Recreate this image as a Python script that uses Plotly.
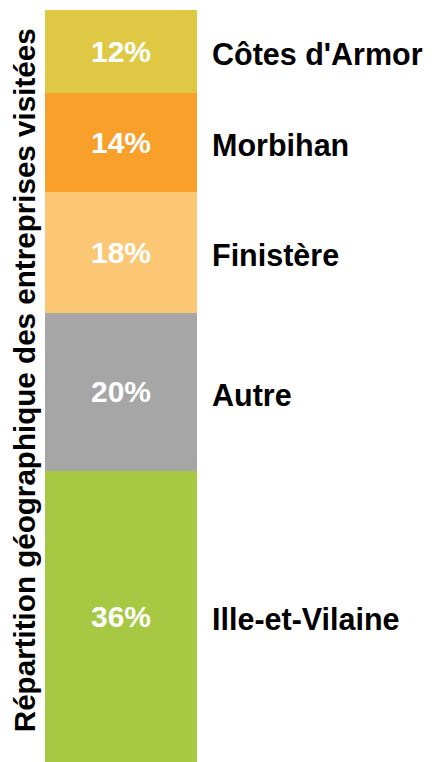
import plotly.graph_objects as go

# Data (bottom to top)
regions = ["Ille-et-Vilaine", "Autre", "Finistère", "Morbihan", "Côtes d'Armor"]
pct_labels = ["36%", "20%", "18%", "14%", "12%"]
# segment heights (share of the bar, %)
heights = [38.7, 21.05, 16.05, 13.2, 11.0]
colors = ["#A6C843", "#A6A6A6", "#FBC774", "#F9A02A", "#DFC944"]

title_text = "Répartition géographique des entreprises visitées"

FONT = "Liberation Sans, Arial, sans-serif"

fig = go.Figure()
for name, h, lab, col in zip(regions, heights, pct_labels, colors):
    fig.add_trace(go.Bar(
        x=[0], y=[h], width=1, name=name,
        marker=dict(color=col, line=dict(width=0)),
        text=["<b>%s</b>" % lab], textposition="inside", insidetextanchor="middle",
        textangle=0,
        textfont=dict(family=FONT, size=30, color="white"),
        hoverinfo="skip",
    ))

# Category labels to the right of the bar
annotations = []
cum = 0
for name, h in zip(regions, heights):
    mid = cum + h / 2
    cum += h
    annotations.append(dict(
        x=1, xref="paper", xanchor="left", xshift=13,
        y=mid, yref="y", yanchor="middle", yshift=-3,
        text="<b>%s</b>" % name, showarrow=False,
        font=dict(family=FONT, size=30.5, color="black"),
    ))

annotations.append(dict(
    x=0, xref="paper", xanchor="right", xshift=-2,
    y=0.507, yref="paper", yanchor="middle",
    text="<b>%s</b>" % title_text, textangle=-90, showarrow=False,
    font=dict(family=FONT, size=29.6, color="black"),
))

# page body has an 8px default margin, so the figure is shrunk/shifted accordingly
fig.update_layout(
    width=430, height=754,
    margin=dict(l=37, r=241, t=2, b=0, pad=0),
    barmode="stack",
    showlegend=False,
    plot_bgcolor="white", paper_bgcolor="white",
    xaxis=dict(visible=False, range=[-0.5, 0.5], fixedrange=True),
    yaxis=dict(visible=False, range=[0, 100], fixedrange=True),
    annotations=annotations,
    uniformtext=dict(minsize=30, mode="show"),
)

fig.write_html("out.html")
